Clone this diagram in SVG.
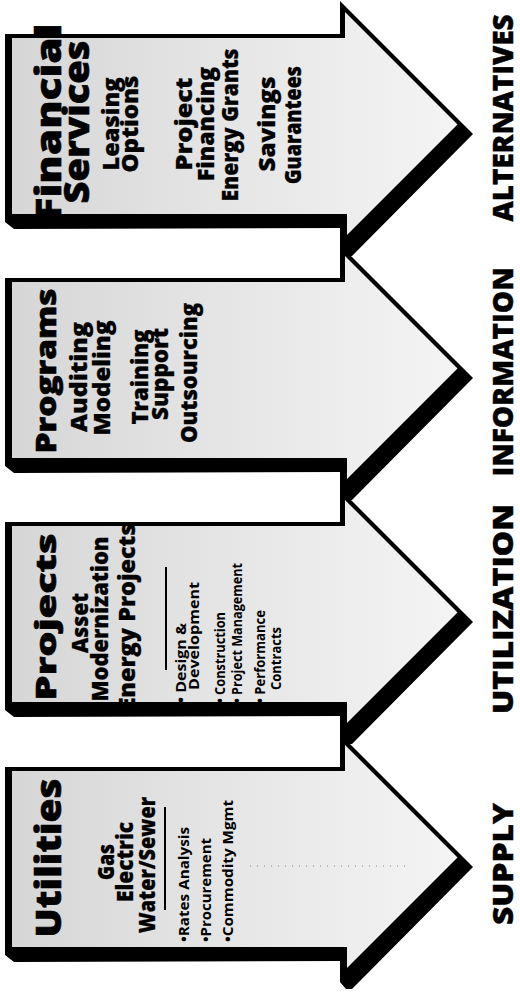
<svg xmlns="http://www.w3.org/2000/svg" width="520" height="999" viewBox="0 0 520 999">
<style>
.t{font-family:"Open Sans","Liberation Sans",Arial,sans-serif;font-weight:800;fill:#000}
.ti{font-size:35px;stroke:#000;stroke-width:0.6}
.ts{font-size:29px;stroke:#000;stroke-width:0.6}
.sb{font-size:22px;stroke:#000;stroke-width:0.3}
.bl{font-size:14px;font-weight:700}
.lb{font-size:28px;stroke:#000;stroke-width:0.4}
.out{fill:#000}
.in{fill:url(#g)}
.sep{stroke:#000;stroke-width:2}
</style>
<defs>
<linearGradient id="g" x1="0" y1="0" x2="1" y2="0">
<stop offset="0" stop-color="#d6d6d6"/>
<stop offset="0.5" stop-color="#e6e6e6"/>
<stop offset="1" stop-color="#f4f4f4"/>
</linearGradient>
<polygon id="outer" points="5,-96 340,-96 340,-129 473,4 352,126 346,126 340,119 340,98 14,99 5,92"/>
<polygon id="inner" points="12,-92 345,-92 345,-118 457.5,-5.5 347,105 347,84 12,84"/>
</defs>
<g id="connectors"/>

<g id="financial-services">
<use href="#outer" class="out" transform="translate(0,130)"/>
<use href="#inner" class="in" transform="translate(0,130)"/>
<text class="t ti" transform="translate(61,122) rotate(-90)" text-anchor="middle" textLength="197" lengthAdjust="spacingAndGlyphs">Financial</text>
<text class="t ti" transform="translate(89,122) rotate(-90)" text-anchor="middle" textLength="163" lengthAdjust="spacingAndGlyphs">Services</text>
<text class="t sb" transform="translate(119,124) rotate(-90)" text-anchor="middle" textLength="93" lengthAdjust="spacingAndGlyphs">Leasing</text>
<text class="t sb" transform="translate(138,124) rotate(-90)" text-anchor="middle" textLength="97" lengthAdjust="spacingAndGlyphs">Options</text>
<text class="t sb" transform="translate(192,124) rotate(-90)" text-anchor="middle" textLength="93" lengthAdjust="spacingAndGlyphs">Project</text>
<text class="t sb" transform="translate(214,124) rotate(-90)" text-anchor="middle" textLength="114" lengthAdjust="spacingAndGlyphs">Financing</text>
<text class="t sb" transform="translate(238,125) rotate(-90)" text-anchor="middle" textLength="153" lengthAdjust="spacingAndGlyphs">Energy Grants</text>
<text class="t sb" transform="translate(275,124) rotate(-90)" text-anchor="middle" textLength="95" lengthAdjust="spacingAndGlyphs">Savings</text>
<text class="t sb" transform="translate(301,125) rotate(-90)" text-anchor="middle" textLength="118" lengthAdjust="spacingAndGlyphs">Guarantees</text>
<text class="t lb" transform="translate(513,118) rotate(-90)" text-anchor="middle" textLength="207" lengthAdjust="spacingAndGlyphs">ALTERNATIVES</text>
</g>

<g id="programs">
<use href="#outer" class="out" transform="translate(0,374)"/>
<use href="#inner" class="in" transform="translate(0,374)"/>
<text class="t ts" transform="translate(56,371) rotate(-90)" text-anchor="middle" textLength="165" lengthAdjust="spacingAndGlyphs">Programs</text>
<text class="t sb" transform="translate(87,377) rotate(-90)" text-anchor="middle" textLength="110" lengthAdjust="spacingAndGlyphs">Auditing</text>
<text class="t sb" transform="translate(110,378) rotate(-90)" text-anchor="middle" textLength="115" lengthAdjust="spacingAndGlyphs">Modeling</text>
<text class="t sb" transform="translate(148,377) rotate(-90)" text-anchor="middle" textLength="95" lengthAdjust="spacingAndGlyphs">Training</text>
<text class="t sb" transform="translate(168,374) rotate(-90)" text-anchor="middle" textLength="92" lengthAdjust="spacingAndGlyphs">Support</text>
<text class="t sb" transform="translate(197,373) rotate(-90)" text-anchor="middle" textLength="140" lengthAdjust="spacingAndGlyphs">Outsourcing</text>
<text class="t lb" transform="translate(513,372) rotate(-90)" text-anchor="middle" textLength="209" lengthAdjust="spacingAndGlyphs">INFORMATION</text>
</g>

<g id="projects">
<use href="#outer" class="out" transform="translate(0,618)"/>
<use href="#inner" class="in" transform="translate(0,618)"/>
<text class="t ts" transform="translate(56,617) rotate(-90)" text-anchor="middle" textLength="167" lengthAdjust="spacingAndGlyphs">Projects</text>
<text class="t sb" transform="translate(88,623) rotate(-90)" text-anchor="middle" textLength="60" lengthAdjust="spacingAndGlyphs">Asset</text>
<text class="t sb" transform="translate(108,619) rotate(-90)" text-anchor="middle" textLength="165" lengthAdjust="spacingAndGlyphs">Modernization</text>
<text class="t sb" transform="translate(135,617) rotate(-90)" text-anchor="middle" textLength="187" lengthAdjust="spacingAndGlyphs">Energy Projects</text>
<line class="sep" x1="166" y1="567" x2="166" y2="670"/>
<text class="t bl" transform="translate(186,703) rotate(-90)" textLength="80" lengthAdjust="spacingAndGlyphs">• Design &amp;</text>
<text class="t bl" transform="translate(199,690) rotate(-90)" textLength="108" lengthAdjust="spacingAndGlyphs">Development</text>
<text class="t bl" transform="translate(225,703) rotate(-90)" textLength="91" lengthAdjust="spacingAndGlyphs">• Construction</text>
<text class="t bl" transform="translate(242,703) rotate(-90)" textLength="140" lengthAdjust="spacingAndGlyphs">• Project Management</text>
<text class="t bl" transform="translate(265,703) rotate(-90)" textLength="93" lengthAdjust="spacingAndGlyphs">• Performance</text>
<text class="t bl" transform="translate(281,690) rotate(-90)" textLength="63" lengthAdjust="spacingAndGlyphs">Contracts</text>
<text class="t lb" transform="translate(513,609) rotate(-90)" text-anchor="middle" textLength="210" lengthAdjust="spacingAndGlyphs">UTILIZATION</text>
</g>

<g id="utilities">
<use href="#outer" class="out" transform="translate(0,863)"/>
<use href="#inner" class="in" transform="translate(0,863)"/>
<line x1="250" y1="866" x2="410" y2="866" stroke="#8a8a8a" stroke-width="1" stroke-dasharray="1 6"/>
<text class="t ti" transform="translate(61,858) rotate(-90)" text-anchor="middle" textLength="159" lengthAdjust="spacingAndGlyphs">Utilities</text>
<text class="t sb" transform="translate(114,862) rotate(-90)" text-anchor="middle" textLength="36" lengthAdjust="spacingAndGlyphs">Gas</text>
<text class="t sb" transform="translate(133,862) rotate(-90)" text-anchor="middle" textLength="80" lengthAdjust="spacingAndGlyphs">Electric</text>
<text class="t sb" transform="translate(155,865) rotate(-90)" text-anchor="middle" textLength="136" lengthAdjust="spacingAndGlyphs">Water/Sewer</text>
<line class="sep" x1="165" y1="807" x2="165" y2="910"/>
<text class="t bl" transform="translate(189,942) rotate(-90)" textLength="115" lengthAdjust="spacingAndGlyphs">•Rates Analysis</text>
<text class="t bl" transform="translate(211,942) rotate(-90)" textLength="104" lengthAdjust="spacingAndGlyphs">•Procurement</text>
<text class="t bl" transform="translate(233,942) rotate(-90)" textLength="142" lengthAdjust="spacingAndGlyphs">•Commodity Mgmt</text>
<text class="t lb" transform="translate(513,864) rotate(-90)" text-anchor="middle" textLength="122" lengthAdjust="spacingAndGlyphs">SUPPLY</text>
</g>
</svg>
